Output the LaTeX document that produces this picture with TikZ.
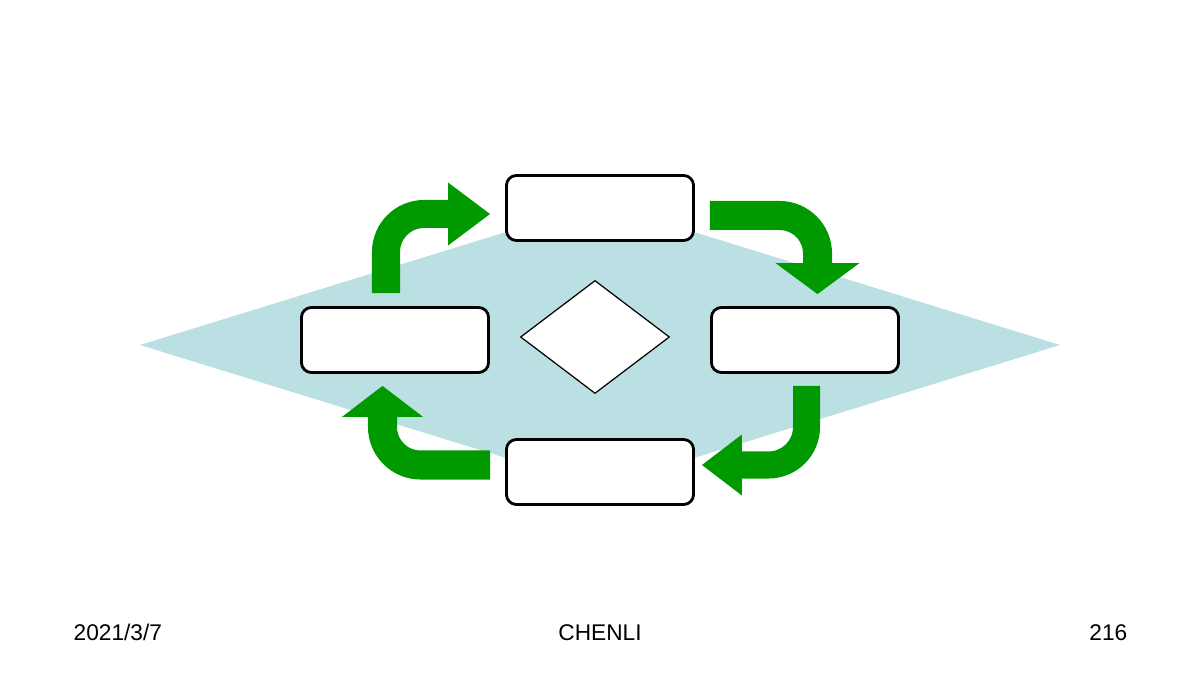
\documentclass[tikz,border=0pt]{standalone}
\usepackage{fontspec}
\setmainfont{Liberation Sans}
\usetikzlibrary{arrows.meta,shapes.geometric}

\definecolor{pale}{HTML}{BBE0E3}
\definecolor{leaf}{HTML}{009900}

\begin{document}
\begin{tikzpicture}[x=0.01cm,y=-0.01cm,
  box/.style={draw=black, fill=white, line width=0.8pt, rounded corners=0.1cm,
    minimum width=1.87cm, minimum height=0.65cm, inner sep=0pt},
  turn/.style={draw=leaf, line width=0.28cm, rounded corners=0.38cm},
  foot/.style={inner sep=0pt, font=\fontsize{6.45}{7.7}\selectfont}]

\useasboundingbox (0,0) rectangle (1200,680);

\fill [pale] (140,345) -- (600,203) -- (1060,345) -- (600,487) -- cycle;

\node [box] (top) at (600,208) {};
\node [box] (left) at (395,340) {};
\node [box] (right) at (805,340) {};
\node [box] (bottom) at (600,472) {};

\node [draw, diamond, fill=white, line width=0.35pt, minimum width=1.49cm,
  minimum height=1.13cm, inner sep=0pt] (hub) at (595,337) {};

% bent arrows round the loop
\coordinate (tl0) at ([shift={(-9,-13)}]left.north);
\coordinate (tl1) at ([shift={(-15,6)}]top.west);
\draw [turn, -{Triangle[length=0.42cm, width=0.63cm, line width=0pt]}] (tl0) |- (tl1);

\coordinate (tr0) at ([shift={(15,7.5)}]top.east);
\coordinate (tr1) at ([shift={(12.5,-12)}]right.north);
\draw [turn, line width=0.29cm, -{Triangle[length=0.31cm, width=0.84cm, line width=0pt]}] (tr0) -| (tr1);

\coordinate (br0) at ([shift={(1.5,12)}]right.south);
\coordinate (br1) at ([shift={(7,-7)}]bottom.east);
\draw [turn, line width=0.27cm, -{Triangle[length=0.40cm, width=0.61cm, line width=0pt]}] (br0) |- (br1);

\coordinate (bl0) at ([shift={(-15,-7)}]bottom.west);
\coordinate (bl1) at ([shift={(-12.5,12)}]left.south);
\draw [turn, line width=0.29cm, -{Triangle[length=0.31cm, width=0.81cm, line width=0pt]}] (bl0) -| (bl1);


\node [foot, anchor=base west] (date) at (73,641) {2021/3/7};
\node [foot, anchor=base] (name) at (600,641) {CHENLI};
\node [foot, anchor=base east] (page) at (1128,641) {216};

\end{tikzpicture}
\end{document}
